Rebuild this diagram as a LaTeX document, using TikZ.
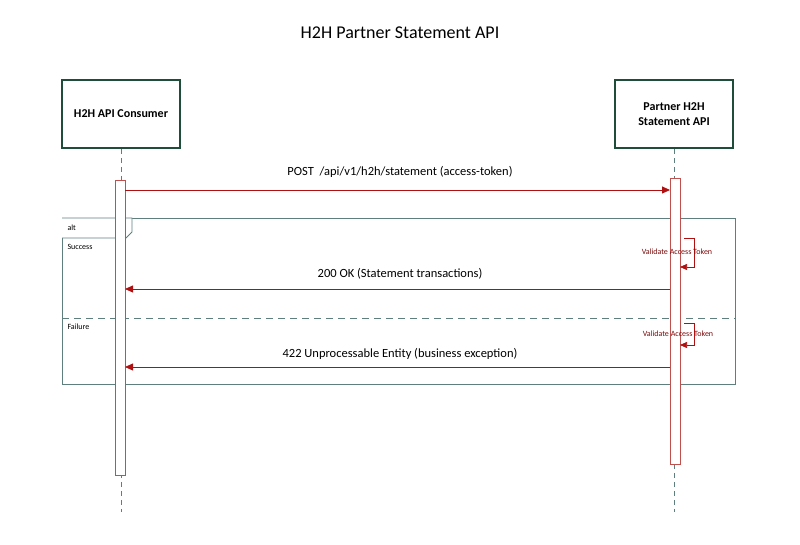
\documentclass[tikz,border=0pt]{standalone}
\usepackage{fontspec}
\setmainfont{Carlito}
\usetikzlibrary{arrows.meta}
\definecolor{lred}{HTML}{C0504D}
\definecolor{dred}{HTML}{B01010}
\definecolor{frm}{HTML}{5F7F7F}
\definecolor{bxc}{HTML}{1E4D3A}
\begin{document}
\begin{tikzpicture}[x=1pt,y=-1pt,
  actor/.style={draw=bxc,line width=1.6pt,fill=white,minimum width=118pt,minimum height=68pt,align=center,font=\bfseries\fontsize{12}{15}\selectfont},
  life/.style={draw=frm,dashed,dash pattern=on 5pt off 4pt},
  bar/.style={draw=lred,fill=white,line width=0.8pt},
  msg/.style={draw=dred,line width=0.8pt,-{Triangle[length=8pt,width=7pt]}},
  mlab/.style={font=\fontsize{12.5}{15}\selectfont,text=black},
  slab/.style={font=\fontsize{8}{10}\selectfont,text=dred!70!black},
  flab/.style={anchor=west,font=\fontsize{8}{10}\selectfont}]
\useasboundingbox (0,0) rectangle (800,545);
\node[font=\fontsize{18}{22}\selectfont] (title) at (400,33) {H2H Partner Statement API};
\node[actor] (c) at (121,114) {H2H API Consumer};
\node[actor] (p) at (674,114) {Partner H2H\\Statement API};
\coordinate (ce) at (121,512);
\coordinate (pe) at (674,512);
\draw[life] (c.south) -- (ce);
\draw[life] (p.south) -- (pe);
% alt frame
\draw[frm,line width=0.8pt] (62,218) rectangle (735,384);
\draw[frm,line width=0.8pt,fill=white] (62,218) -- (132,218) -- (132,232) -- (126,238) -- (62,238);
\node[flab] (alt) at (64,228) {alt};
\node[flab] (s) at (64,247) {Success};
\node[flab] (f) at (64,327) {Failure};
\draw[frm,line width=0.9pt,dash pattern=on 7pt off 5pt] (62,318) -- (735,318);
% activation bars
\node[bar,minimum width=10pt,minimum height=295pt,inner sep=0pt] (cb) at (120,327.5) {};
\node[bar,minimum width=10pt,minimum height=286pt,inner sep=0pt] (pb) at (675,321) {};
% messages
\coordinate (m1s) at (125,190); \coordinate (m1e) at (670,190);
\draw[msg] (m1s) -- (m1e);
\node[mlab] (l1) at (400,172) {POST \ /api/v1/h2h/statement (access-token)};
\coordinate (m2s) at (670,289); \coordinate (m2e) at (125,289);
\draw[msg] (m2s) -- (m2e);
\node[mlab] (l2) at (400,274) {200 OK (Statement transactions)};
\coordinate (m3s) at (670,367); \coordinate (m3e) at (125,367);
\draw[msg] (m3s) -- (m3e);
\node[mlab] (l3) at (400,354) {422 Unprocessable Entity (business exception)};
% self calls
\coordinate (s1a) at (684,238); \coordinate (s1b) at (680,267);
\draw[dred,line width=0.6pt,-{Triangle[length=7pt,width=6pt]}] (s1a) -- (694,238) -- (694,267) -- (s1b);
\node[slab] (v1) at (677,252) {Validate Access Token};
\coordinate (s2a) at (684,323); \coordinate (s2b) at (680,345);
\draw[dred,line width=0.6pt,-{Triangle[length=7pt,width=6pt]}] (s2a) -- (694,323) -- (694,345) -- (s2b);
\node[slab] (v2) at (678,334) {Validate Access Token};
\end{tikzpicture}
\end{document}
